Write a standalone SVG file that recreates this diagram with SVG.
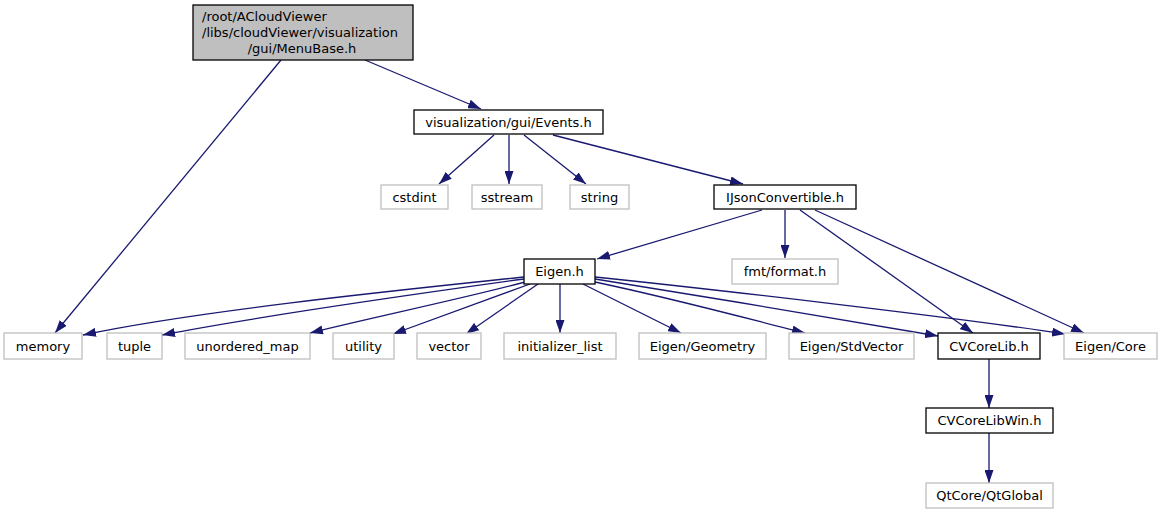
<svg xmlns="http://www.w3.org/2000/svg" width="1162" height="515" viewBox="0 0 1162 515">
<style>
text{font-family:"DejaVu Sans",Verdana,sans-serif;font-size:13px;fill:#000;text-anchor:middle}
.g rect{fill:#fff;stroke:#bfbfbf;stroke-width:1.3}
.b rect{fill:#fff;stroke:#000;stroke-width:1.3}
.root rect{fill:#bfbfbf;stroke:#000;stroke-width:1.3}
#edges path{fill:none;stroke:#191970;stroke-width:1.3;marker-end:url(#arr)}
</style>
<defs>
<marker id="arr" viewBox="0 0 13 9" refX="13" refY="4.5" markerWidth="13" markerHeight="9" markerUnits="userSpaceOnUse" orient="auto">
<path d="M0,0 L13,4.5 L0,9 z" fill="#191970"/>
</marker>
</defs>
<rect width="1162" height="515" fill="#fff"/>
<g id="edges">
<path d="M281,60 L55,333"/>
<path d="M365,60 L481,109"/>
<path d="M494,135 L439,184"/>
<path d="M509,135 L509,184"/>
<path d="M524,135 L586,184"/>
<path d="M553,135 L743,184"/>
<path d="M762,210 L597,259"/>
<path d="M785,210 L785,258"/>
<path d="M800,210 L973,333"/>
<path d="M815,210 L1084,333"/>
<path d="M524,277 C420,288 200,310 83,335"/>
<path d="M524,279 C430,292 260,316 162,335"/>
<path d="M525,282 C470,297 370,318 310,333"/>
<path d="M530,284 L393,334"/>
<path d="M538,284 L466,334"/>
<path d="M560,284 L560,333"/>
<path d="M583,284 L681,333"/>
<path d="M595,282 C680,300 760,322 805,333"/>
<path d="M595,279 C700,296 860,322 938,336"/>
<path d="M595,277 C720,290 960,318 1065,334"/>
<path d="M989,359 L989,408"/>
<path d="M989,433 L989,483"/>
</g>
<g id="node_menubase" class="root">
<rect x="193" y="5" width="220" height="55"/>
<text x="202" y="21" style="text-anchor:start">/root/ACloudViewer</text>
<text x="202" y="37" style="text-anchor:start">/libs/cloudViewer/visualization</text>
<text x="302" y="53">/gui/MenuBase.h</text>
</g>
<g id="node_events" class="b">
<rect x="414" y="110" width="189" height="24"/>
<text x="508.5" y="126.5">visualization/gui/Events.h</text>
</g>
<g id="node_cstdint" class="g">
<rect x="381" y="185" width="67" height="24"/>
<text x="414.5" y="201.5">cstdint</text>
</g>
<g id="node_sstream" class="g">
<rect x="472" y="185" width="70" height="24"/>
<text x="507" y="201.5">sstream</text>
</g>
<g id="node_string" class="g">
<rect x="570" y="185" width="59" height="24"/>
<text x="599.5" y="201.5">string</text>
</g>
<g id="node_ijson" class="b">
<rect x="714" y="185" width="142" height="24"/>
<text x="785" y="201.5">IJsonConvertible.h</text>
</g>
<g id="node_fmt" class="g">
<rect x="732" y="259" width="106" height="25"/>
<text x="785" y="276">fmt/format.h</text>
</g>
<g id="node_eigen" class="b">
<rect x="524" y="259" width="71" height="25"/>
<text x="559.5" y="276">Eigen.h</text>
</g>
<g id="node_memory" class="g">
<rect x="4" y="333" width="78" height="26"/>
<text x="43" y="350.5">memory</text>
</g>
<g id="node_tuple" class="g">
<rect x="107" y="333" width="55" height="26"/>
<text x="134.5" y="350.5">tuple</text>
</g>
<g id="node_unordered_map" class="g">
<rect x="185" y="333" width="125" height="26"/>
<text x="247.5" y="350.5">unordered_map</text>
</g>
<g id="node_utility" class="g">
<rect x="333" y="333" width="61" height="26"/>
<text x="363.5" y="350.5">utility</text>
</g>
<g id="node_vector" class="g">
<rect x="417" y="333" width="64" height="26"/>
<text x="449" y="350.5">vector</text>
</g>
<g id="node_initializer_list" class="g">
<rect x="504" y="333" width="112" height="26"/>
<text x="560" y="350.5">initializer_list</text>
</g>
<g id="node_geometry" class="g">
<rect x="639" y="333" width="127" height="26"/>
<text x="702.5" y="350.5">Eigen/Geometry</text>
</g>
<g id="node_stdvector" class="g">
<rect x="789" y="333" width="125" height="26"/>
<text x="851.5" y="350.5">Eigen/StdVector</text>
</g>
<g id="node_cvcorelib" class="b">
<rect x="938" y="333" width="102" height="26"/>
<text x="989" y="350.5">CVCoreLib.h</text>
</g>
<g id="node_eigencore" class="g">
<rect x="1064" y="333" width="93" height="26"/>
<text x="1110.5" y="350.5">Eigen/Core</text>
</g>
<g id="node_cvcorelibwin" class="b">
<rect x="926" y="408" width="127" height="25"/>
<text x="989.5" y="425">CVCoreLibWin.h</text>
</g>
<g id="node_qtglobal" class="g">
<rect x="926" y="483" width="127" height="25"/>
<text x="989.5" y="500">QtCore/QtGlobal</text>
</g>
</svg>
